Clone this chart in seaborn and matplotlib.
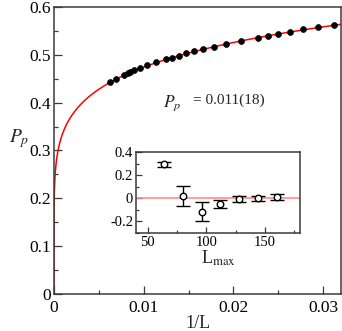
import numpy as np
import matplotlib
matplotlib.use("Agg")
import matplotlib.pyplot as plt
from matplotlib.ticker import MultipleLocator, FuncFormatter
import seaborn as sns

# main panel: system sizes and P_p
L_vals = [160, 144, 128, 122, 118, 112, 104, 96, 88, 80, 76, 72, 68,
          64, 60, 56, 52, 48, 44, 42, 40, 38, 36, 34, 32]
Pp_vals = [0.443, 0.450, 0.457, 0.462, 0.464, 0.468, 0.473, 0.478, 0.485,
           0.491, 0.494, 0.498, 0.503, 0.508, 0.512, 0.517, 0.523, 0.529,
           0.536, 0.540, 0.544, 0.548, 0.553, 0.558, 0.563]

# fit  P_p(1/L) = P_inf + amp * (1/L)^expo
P_inf = 0.011
amp = 0.933
expo = 0.152

# inset: extrapolated value vs L_max
Lmax = [64, 80, 96, 112, 128, 144, 160]
Pinf_vals = [0.294, 0.019, -0.115, -0.048, -0.005, 0.001, 0.013]
Pinf_err = [0.022, 0.087, 0.081, 0.037, 0.028, 0.022, 0.024]

sns.set_style("ticks")
plt.rcParams["font.family"] = ["Liberation Serif", "DejaVu Serif"]
plt.rcParams["mathtext.fontset"] = "stix"
plt.rcParams["xtick.direction"] = "in"
plt.rcParams["ytick.direction"] = "in"

spine_col = "#3a3a3a"
fmt = FuncFormatter(lambda v, p: "0" if abs(v) < 1e-9 else f"{v:g}")

fig = plt.figure(figsize=(3.42, 3.31), dpi=100)
ax = fig.add_axes([54 / 342, 1 - 294 / 331, 287 / 342, 287 / 331])

invL = [1.0 / L for L in L_vals]
xx = np.concatenate([[0.0], np.geomspace(1e-12, 0.032, 500)])
yy = P_inf + amp * xx ** expo
sns.lineplot(x=xx, y=yy, ax=ax, color="red", linewidth=1.1, sort=False, zorder=2)
sns.scatterplot(x=invL, y=Pp_vals, ax=ax, color="black", s=18,
                edgecolor="black", linewidth=0.5, zorder=3)

ax.set_xlim(0, 0.032)
ax.set_ylim(0, 0.6)
ax.xaxis.set_major_locator(MultipleLocator(0.01))
ax.xaxis.set_minor_locator(MultipleLocator(0.005))
ax.yaxis.set_major_locator(MultipleLocator(0.1))
ax.yaxis.set_minor_locator(MultipleLocator(0.05))
ax.xaxis.set_major_formatter(fmt)
ax.yaxis.set_major_formatter(fmt)
ax.tick_params(which="major", length=5.5, width=0.9, labelsize=12.5, colors=spine_col,
               labelcolor="black")
ax.tick_params(which="minor", length=3, width=0.9, colors=spine_col)
ax.tick_params(axis="y", pad=2)
ax.tick_params(axis="x", pad=4)
for s in ax.spines.values():
    s.set_color(spine_col)
    s.set_linewidth(1.1)

ax.set_xlabel("1/L", fontsize=13)
ax.xaxis.set_label_coords(0.5, -0.072)
ax.set_ylabel(r"$P_p$", fontsize=14, rotation=0)
ax.yaxis.set_label_coords(-0.12, 0.5)
ax.text(0.0122, 0.392, r"$P_p$", fontsize=12.5)
ax.text(0.0155, 0.398, "= 0.011(18)", fontsize=11)

# inset
axin = fig.add_axes([136 / 342, 1 - 233 / 331, 164 / 342, 81 / 331])
axin.axhline(0, color="#ff8c8c", linewidth=1.2, zorder=1)
axin.errorbar(Lmax, Pinf_vals, yerr=Pinf_err, fmt="none", ecolor="black",
              elinewidth=1.0, capsize=4.7, capthick=1.0, zorder=2)
sns.scatterplot(x=Lmax, y=Pinf_vals, ax=axin, s=22, facecolor="white",
                edgecolor="black", linewidth=1.0, zorder=3)
axin.set_xlim(40, 180)
axin.set_ylim(-0.3, 0.4)
axin.xaxis.set_major_locator(MultipleLocator(50))
axin.xaxis.set_minor_locator(MultipleLocator(25))
axin.yaxis.set_major_locator(MultipleLocator(0.2))
axin.yaxis.set_minor_locator(MultipleLocator(0.1))
axin.yaxis.set_major_formatter(fmt)
axin.tick_params(which="major", length=4, width=0.9, labelsize=10.5, colors=spine_col,
                 labelcolor="black", pad=2)
axin.tick_params(which="minor", length=2.5, width=0.9, colors=spine_col)
for s in axin.spines.values():
    s.set_color(spine_col)
    s.set_linewidth(1.1)
axin.set_xlabel(r"L$_{\rm max}$", fontsize=13, labelpad=0)

fig.savefig("out.png", dpi=100)
